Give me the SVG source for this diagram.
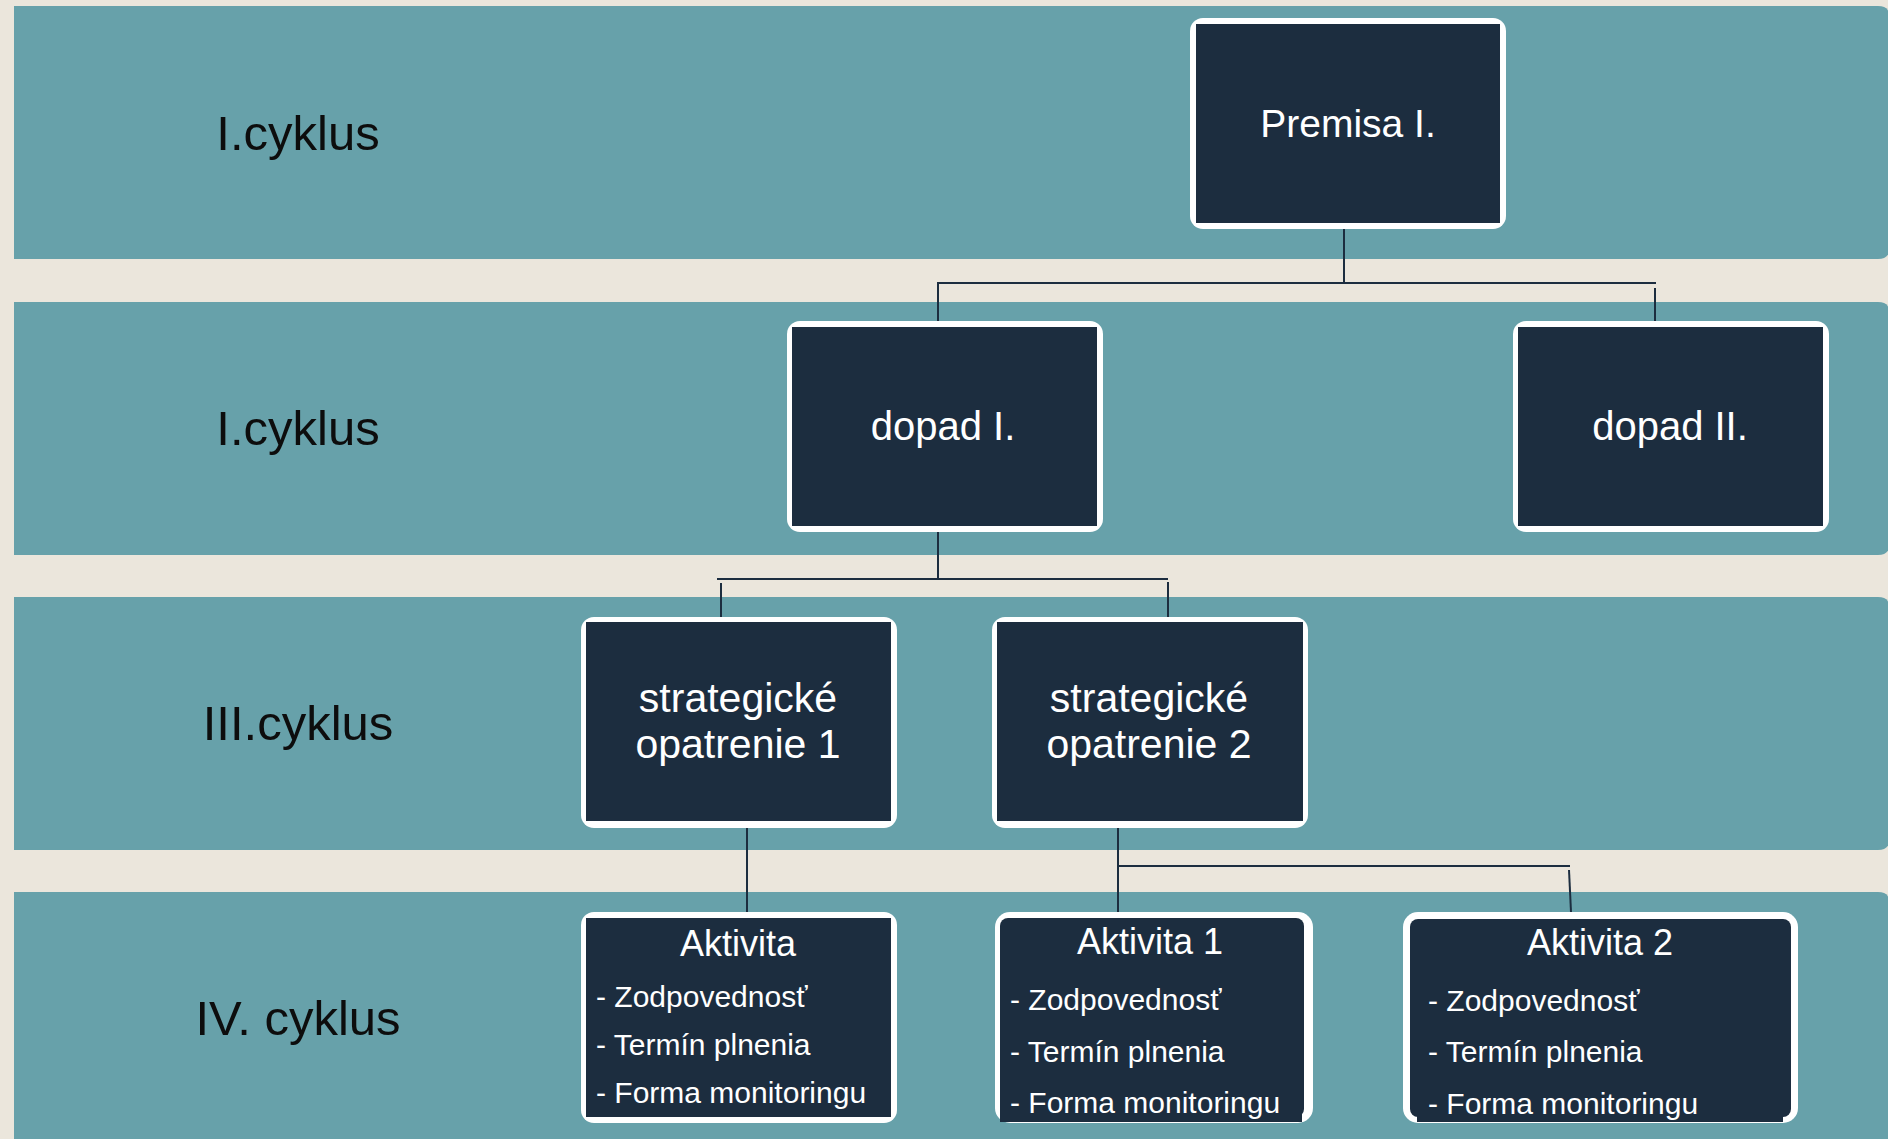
<svg xmlns="http://www.w3.org/2000/svg" width="1888" height="1139" viewBox="0 0 1888 1139">
<style>
.band{fill:#67a1aa}
.outer{fill:#ffffff}
.inner{fill:#1c2d3f}
.lbl{font-family:"Liberation Sans",Arial,sans-serif;font-size:49px;fill:#0d0d0d;text-anchor:middle}
.nt{font-family:"Liberation Sans",Arial,sans-serif;fill:#ffffff;text-anchor:middle}
.li{font-family:"Liberation Sans",Arial,sans-serif;fill:#ffffff;font-size:30px}
.conn path{stroke:#1c2d3f;stroke-width:2;fill:none}
</style>
<rect x="0" y="0" width="1888" height="1139" fill="#ebe6dc"/>
<g id="bands">
<path class="band" d="M14 6 H1878 Q1890 6 1890 18 V247 Q1890 259 1878 259 H14 Z"/>
<path class="band" d="M14 302 H1878 Q1890 302 1890 314 V543 Q1890 555 1878 555 H14 Z"/>
<path class="band" d="M14 597 H1878 Q1890 597 1890 609 V838 Q1890 850 1878 850 H14 Z"/>
<path class="band" d="M14 892 H1878 Q1890 892 1890 904 V1150 H14 Z"/>
</g>
<g id="labels">
<text class="lbl" x="298" y="150">I.cyklus</text>
<text class="lbl" x="298" y="445">I.cyklus</text>
<text class="lbl" x="298" y="740">III.cyklus</text>
<text class="lbl" x="298" y="1035">IV. cyklus</text>
</g>
<g class="conn" id="connectors">
<path d="M1344 223 V283"/>
<path d="M937 283 H1656"/>
<path d="M938 283 V327"/>
<path d="M1655 288 V327"/>
<path d="M938 526 V579"/>
<path d="M717 579 H1168"/>
<path d="M721 583 V622"/>
<path d="M1168 582 V622"/>
<path d="M747 821 V918"/>
<path d="M1118 821 V918"/>
<path d="M1118 866 H1570"/>
<path d="M1569 870 L1571 912"/>
</g>
<g id="premisa">
<rect class="outer" x="1190" y="18" width="316" height="211" rx="13"/>
<rect class="inner" x="1196" y="24" width="304" height="199"/>
<text class="nt" x="1348" y="137" font-size="39">Premisa I.</text>
</g>
<g id="dopad1">
<rect class="outer" x="787" y="321" width="316" height="211" rx="13"/>
<rect class="inner" x="792" y="327" width="305" height="199"/>
<text class="nt" x="943" y="440" font-size="40">dopad I.</text>
</g>
<g id="dopad2">
<rect class="outer" x="1513" y="321" width="316" height="211" rx="13"/>
<rect class="inner" x="1518" y="327" width="305" height="199"/>
<text class="nt" x="1670" y="440" font-size="40">dopad II.</text>
</g>
<g id="strat1">
<rect class="outer" x="581" y="617" width="316" height="211" rx="13"/>
<rect class="inner" x="586" y="622" width="305" height="199"/>
<text class="nt" x="738" y="712" font-size="41">strategické</text>
<text class="nt" x="738" y="758" font-size="41">opatrenie 1</text>
</g>
<g id="strat2">
<rect class="outer" x="992" y="617" width="316" height="211" rx="13"/>
<rect class="inner" x="997" y="622" width="306" height="199"/>
<text class="nt" x="1149" y="712" font-size="41">strategické</text>
<text class="nt" x="1149" y="758" font-size="41">opatrenie 2</text>
</g>
<g id="aktivita">
<rect class="outer" x="581" y="912" width="316" height="211" rx="13"/>
<rect class="inner" x="586" y="918" width="305" height="199"/>
<text class="nt" x="738" y="956" font-size="36">Aktivita</text>
<text class="li" x="596" y="1007">- Zodpovednosť</text>
<text class="li" x="596" y="1055">- Termín plnenia</text>
<text class="li" x="596" y="1103">- Forma monitoringu</text>
</g>
<g id="aktivita1">
<rect class="outer" x="995" y="912" width="318" height="211" rx="15"/>
<rect class="inner" x="1000" y="918" width="304" height="199" rx="8"/>
<rect class="inner" x="1000" y="1100" width="302" height="22"/>
<text class="nt" x="1150" y="954" font-size="36">Aktivita 1</text>
<text class="li" x="1010" y="1010">- Zodpovednosť</text>
<text class="li" x="1010" y="1062">- Termín plnenia</text>
<text class="li" x="1010" y="1113">- Forma monitoringu</text>
</g>
<g id="aktivita2">
<rect class="outer" x="1403" y="912" width="395" height="211" rx="15"/>
<rect class="inner" x="1410" y="919" width="381" height="198" rx="8"/>
<rect class="inner" x="1417" y="1100" width="366" height="22"/>
<text class="nt" x="1600" y="955" font-size="36">Aktivita 2</text>
<text class="li" x="1428" y="1011">- Zodpovednosť</text>
<text class="li" x="1428" y="1062">- Termín plnenia</text>
<text class="li" x="1428" y="1114">- Forma monitoringu</text>
</g>
</svg>
